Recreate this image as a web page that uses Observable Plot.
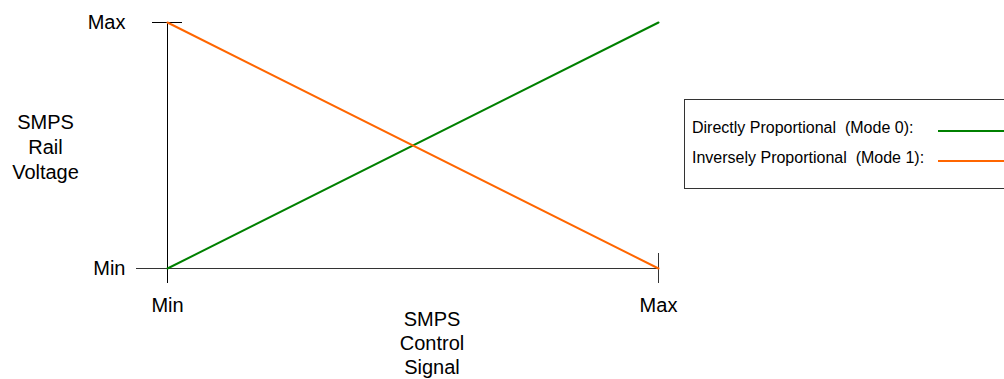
<!DOCTYPE html>
<html>
<head>
<meta charset="utf-8">
<script src="https://cdn.jsdelivr.net/npm/d3@7"></script>
<script src="https://cdn.jsdelivr.net/npm/@observablehq/plot@0.6"></script>
<style>
  html, body { margin: 0; padding: 0; background: #fff; }
  #wrap { position: relative; width: 1004px; height: 379px; overflow: hidden; font-family: "Liberation Sans", Arial, sans-serif; }
  #legend { position: absolute; left: 684px; top: 99px; width: 340px; height: 90px; border: 1px solid #333; box-sizing: border-box; background: #fff; }
  #legend .lbl { position: absolute; left: 7px; font-size: 16px; white-space: pre; color: #000; line-height: 16px; }
  #legend .sw { position: absolute; height: 2px; width: 80px; }
</style>
</head>
<body>
<div id="wrap"></div>
<script>
// ---- data ----
const signal = [0, 1];                 // SMPS control signal (Min → Max)
const directV = [0, 1];                // Directly Proportional (Mode 0)
const inverseV = [1, 0];               // Inversely Proportional (Mode 1)
const tickValues = [0, 1];
const tickLabels = ["Min", "Max"];
const seriesNames = ["Directly Proportional  (Mode 0):", "Inversely Proportional  (Mode 1):"];
const seriesColors = ["#008000", "#ff6600"];
const yTitle = "SMPS\nRail\nVoltage";
const xTitle = "SMPS\nControl\nSignal";

const ticks = tickValues.map((v, i) => ({v, label: tickLabels[i]}));
const direct = signal.map((s, i) => ({s, v: directV[i]}));
const inverse = signal.map((s, i) => ({s, v: inverseV[i]}));

const font = "Liberation Sans, Arial, sans-serif";

const chart = Plot.plot({
  width: 1004,
  height: 379,
  marginLeft: 167,
  marginRight: 346,
  marginTop: 22,
  marginBottom: 111,
  style: {fontFamily: font, fontSize: "20px", background: "#fff", color: "#000"},
  x: {domain: [0, 1], axis: null},
  y: {domain: [0, 1], axis: null},
  marks: [
    // y axis line (extends below the x axis)
    Plot.ruleX([0], {stroke: "#000", insetBottom: -15}),
    // x axis line (extends left of the y axis)
    Plot.ruleY([0], {stroke: "#333", insetLeft: -31}),
    // Max tick on y axis (both sides)
    Plot.ruleY([1], {x1: 0, x2: 0, stroke: "#000", insetLeft: -15, insetRight: -15}),
    // Max tick on x axis (both sides)
    Plot.ruleX([1], {y1: 0, y2: 0, stroke: "#333", insetTop: 15, insetBottom: 15}),
    // series
    Plot.line(direct, {x: "s", y: "v", stroke: seriesColors[0], strokeWidth: 2}),
    Plot.line(inverse, {x: "s", y: "v", stroke: seriesColors[1], strokeWidth: 2}),
    // y tick labels
    Plot.text(ticks, {y: "v", text: "label", frameAnchor: "left", dx: -42, textAnchor: "end", lineAnchor: "middle", fontSize: 20, fill: "#000"}),
    // x tick labels
    Plot.text(ticks, {x: "v", text: "label", frameAnchor: "bottom", dy: 37, textAnchor: "middle", lineAnchor: "middle", fontSize: 20, fill: "#000"}),
    // axis titles
    Plot.text([yTitle], {frameAnchor: "left", dx: -122, textAnchor: "middle", lineAnchor: "middle", lineHeight: 1.25, fontSize: 20, fill: "#000"}),
    Plot.text([xTitle], {frameAnchor: "bottom", dx: 19, dy: 74, textAnchor: "middle", lineAnchor: "middle", lineHeight: 1.2, fontSize: 20, fill: "#000"})
  ]
});

const wrap = document.getElementById("wrap");
wrap.appendChild(chart);

// legend
const legend = document.createElement("div");
legend.id = "legend";
seriesNames.forEach((name, i) => {
  const lbl = document.createElement("div");
  lbl.className = "lbl";
  lbl.textContent = name;
  lbl.style.top = (20 + i * 30) + "px";
  legend.appendChild(lbl);
  const sw = document.createElement("div");
  sw.className = "sw";
  sw.style.background = seriesColors[i];
  sw.style.left = "253px";
  sw.style.top = (30 + i * 30) + "px";
  legend.appendChild(sw);
});
wrap.appendChild(legend);
</script>
</body>
</html>
